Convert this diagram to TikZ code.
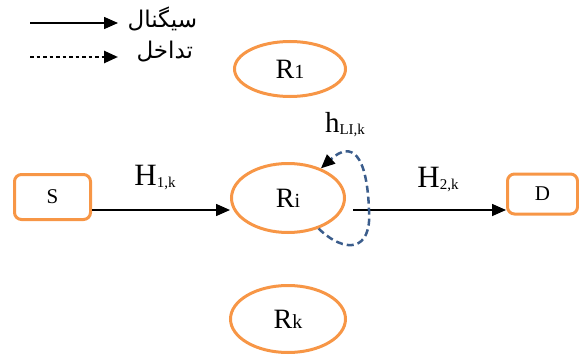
\documentclass[tikz,border=0pt]{standalone}
\usepackage{fontspec}
\setmainfont{Liberation Serif}
\newfontfamily\arabicfont[Script=Arabic]{DejaVu Sans}
\TeXXeTstate=1
\usetikzlibrary{positioning,shapes.geometric,arrows.meta}
\definecolor{relayorange}{RGB}{247,150,70}
\definecolor{loopblue}{RGB}{59,93,140}
\newcommand{\lowsub}[1]{{\fontsize{20}{20}\selectfont #1}}
\newcommand{\chsub}[1]{{\fontsize{15}{15}\selectfont\raisebox{-2pt}{#1}}}

\begin{document}
\begin{tikzpicture}[x=1pt, y=-1pt, auto,
  relay/.style={draw=relayorange, line width=3pt, ellipse, font=\fontsize{28}{30}\selectfont},
  endbox/.style={draw=relayorange, line width=3pt, rounded corners=7pt, font=\fontsize{21}{22}\selectfont},
  sig/.style={-{Triangle[length=14pt,width=12pt]}, line width=1.6pt},
  intf/.style={-{Triangle[length=14pt,width=12pt]}, line width=2.5pt, dash pattern=on 3.5pt off 3pt},
  selfloop/.style={-{Triangle[length=14pt,width=12pt,color=black]}, draw=loopblue, line width=2.5pt, dash pattern=on 7pt off 4pt},
  chan/.style={font=\fontsize{31}{32}\selectfont, inner sep=0pt}]

\useasboundingbox (0,0) rectangle (579,356);

% Legend
\coordinate (sigstart) at (30,23);
\coordinate (intstart) at (30,57);
\node[anchor=west, font=\fontsize{23}{26}\selectfont] (sigtxt) at (124,19) {\arabicfont\beginR سیگنال\endR};
\node[anchor=west, font=\fontsize{23}{26}\selectfont] (inttxt) at (133,52) {\arabicfont\beginR تداخل\endR};
\draw[sig, shorten >=6pt] (sigstart) -- (sigstart -| sigtxt.west);
\draw[intf, shorten >=6pt] (intstart) -- (intstart -| sigtxt.west);

% Relays
\node[relay, minimum width=113pt, minimum height=69pt] (Ri) at (288,198) {R\lowsub{i}};
\node[relay, minimum width=111pt, minimum height=55pt, above=64pt of Ri, xshift=2pt] (R1) {R\lowsub{1}};
\node[relay, minimum width=115pt, minimum height=67pt, below=50pt of Ri] (Rk) {R\lowsub{k}};

% Source and destination
\node[endbox, minimum width=76pt, minimum height=45pt, left=138pt of Ri, yshift=1pt] (S) {S};
\node[endbox, minimum width=70pt, minimum height=40pt, right=160pt of Ri, yshift=4pt] (D) {D};

% Channel labels
\node[chan] (H1) at (155,178) {H\chsub{1,k}};
\node[chan] (H2) at (438,180) {H\chsub{2,k}};
\node[chan, font=\fontsize{29}{30}\selectfont] (hLI) at (345,125) {h\chsub{LI,k}};

% Connections
\draw[sig] ([yshift=-13pt]S.east) -- ([yshift=-12pt]Ri.west);
\draw[sig] ([xshift=7pt,yshift=-12pt]Ri.east) -- ([yshift=-16pt]D.west);
\draw[selfloop] (Ri.-45) .. controls (345,254) and (372,252) .. (369,210)
  .. controls (367,155) and (352,140) .. (Ri.42);
\end{tikzpicture}
\end{document}
